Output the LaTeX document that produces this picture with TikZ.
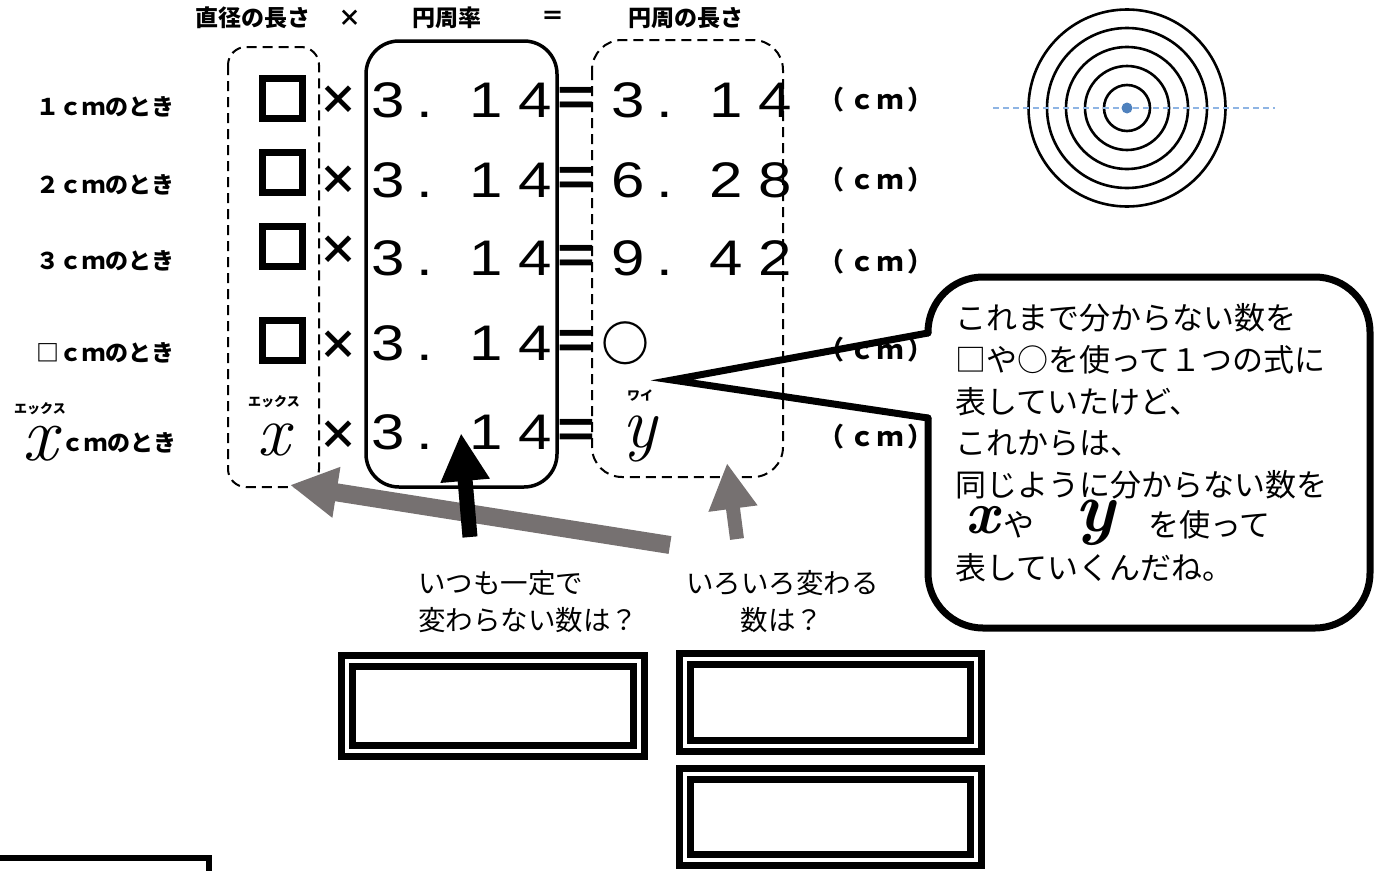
\documentclass[tikz,border=0pt]{standalone}
\usepackage{fontspec}
\newfontfamily\jp{Noto Sans CJK JP}
\newfontfamily\numfont{Liberation Sans}[FakeStretch=1.2]
\usetikzlibrary{arrows.meta}
\definecolor{grayarr}{HTML}{767171}
\definecolor{bluedot}{HTML}{4F81BD}
\definecolor{blueline}{HTML}{8EB4E3}
\newcommand\pival[3]{\makebox[0pt]{#1}\hspace{37pt}\makebox[0pt]{.}\hspace{61pt}\makebox[0pt]{#2}\hspace{49pt}\makebox[0pt]{#3}}
\newcommand\cmunit{（\hspace{5pt}ｃ\hspace{2pt}ｍ\hspace{5pt}）}
\newcommand\itvar[1]{\rmfamily\mdseries\itshape\fontsize{#1}{#1}\selectfont}
\begin{document}
\begin{tikzpicture}[x=1pt,y=-1pt,
 every node/.style={inner sep=0pt,outer sep=0pt},
 hdr/.style={font=\jp\bfseries\fontsize{23}{23}\selectfont},
 cmtxt/.style={font=\jp\bfseries\fontsize{26}{26}\selectfont},
 numtxt/.style={font=\numfont\fontsize{50}{50}\selectfont,anchor=west},
 eqsign/.style={font=\numfont\bfseries\fontsize{54}{54}\selectfont},
 circsign/.style={font=\jp\bfseries\fontsize{48}{48}\selectfont},
 mult/.style={font=\jp\bfseries\fontsize{40}{40}\selectfont},
 sqbox/.style={draw,line width=7pt,minimum size=40pt},
 rubyvar/.style={font=\jp\bfseries\fontsize{13}{13}\selectfont,align=center,anchor=south},
 varx/.style={font=\itvar{#1}\bfseries},
 calltxt/.style={font=\jp\fontsize{31}{31}\selectfont,anchor=west},
 qtxt/.style={font=\jp\fontsize{27.5}{27.5}\selectfont},
 dashbox/.style={draw,line width=2pt,dash pattern=on 10pt off 6pt},
 dblbox/.style={draw,line width=7pt,double,double distance=4pt},
]
\useasboundingbox (0,0) rectangle (1378,870);

% headers
\node[hdr] (h1) at (253,18) {直径の長さ};
\node[hdr] (h2) at (350,18) {×};
\node[hdr] (h3) at (447,18) {円周率};
\node[hdr] (h4) at (553,18) {＝};
\node[hdr] (h5) at (686,18) {円周の長さ};

% row labels
\node[hdr] (r1) at (105,107) {１ｃｍのとき};
\node[hdr] (r2) at (105,185) {２ｃｍのとき};
\node[hdr] (r3) at (105,261) {３ｃｍのとき};
\node[hdr] (r4) at (105,353) {□ｃｍのとき};
\node[hdr] (r5) at (119,443) {ｃｍのとき};
\node[rubyvar] (r5x) at (40,461) {エックス\\[10pt]{\itvar{78}x}};

% column boxes
\coordinate (lb1) at (228,47); \coordinate (lb2) at (319,487);
\coordinate (mb1) at (366,41); \coordinate (mb2) at (557,487);
\coordinate (rb1) at (592,40); \coordinate (rb2) at (783,477);
\draw[dashbox, rounded corners=18] (lb1) rectangle (lb2);
\draw[line width=3.5pt, rounded corners=33] (mb1) rectangle (mb2);

% left column
\node[sqbox] (s1) at (282,98) {};
\node[sqbox] (s2) at (282,172) {};
\node[sqbox] (s3) at (282,246) {};
\node[sqbox] (s4) at (282,340) {};
\node[rubyvar] (lx) at (274,456) {エックス\\[15pt]{\itvar{72}x}};

% multiplication signs
\node[mult] (m1) at (338,100) {×};
\node[mult] (m2) at (338,180) {×};
\node[mult] (m3) at (338,250) {×};
\node[mult] (m4) at (338,345) {×};
\node[mult] (m5) at (338,435) {×};

% pi
\node[numtxt] (p1) at (388,100) {\pival{3}{1}{4}};
\node[numtxt] (p2) at (388,180) {\pival{3}{1}{4}};
\node[numtxt] (p3) at (388,258) {\pival{3}{1}{4}};
\node[numtxt] (p4) at (388,343) {\pival{3}{1}{4}};
\node[numtxt] (p5) at (388,432) {\pival{3}{1}{4}};

% equals
\node[eqsign] (e1) at (576,101) {=};
\node[eqsign] (e2) at (576,181) {=};
\node[eqsign] (e3) at (576,259) {=};
\node[eqsign] (e4) at (576,344) {=};
\node[eqsign] (e5) at (576,433) {=};

% results
\node[numtxt] (v1) at (628,100) {\pival{3}{1}{4}};
\node[numtxt] (v2) at (628,180) {\pival{6}{2}{8}};
\node[numtxt] (v3) at (628,258) {\pival{9}{4}{2}};
\node[circsign] (v4) at (625,343) {○};
\node[rubyvar] (v5) at (640,462) {ワイ\\[13pt]{\itvar{72}y}};
\draw[dashbox, rounded corners=30] (rb1) rectangle (rb2);

% units
\node[cmtxt] (u1) at (876,100) {\cmunit};
\node[cmtxt] (u2) at (876,180) {\cmunit};
\node[cmtxt] (u3) at (876,262) {\cmunit};
\node[cmtxt] (u4) at (876,350) {\cmunit};
\node[cmtxt] (u5) at (876,437) {\cmunit};

% concentric circles
\coordinate (cc) at (1127,108);
\foreach \r in {98.5,80,61,42,23} \draw[line width=2.6pt] (cc) circle[radius=\r];
\coordinate (bl) at (993,108); \coordinate (br) at (1275,108);
\draw[blueline, line width=1.5pt, dash pattern=on 6pt off 4pt] (bl) -- (br);
\fill[bluedot] (cc) circle[radius=5.5];

% callout
\coordinate (k1) at (928,333); \coordinate (k2) at (928,277);
\coordinate (k3) at (1370,277); \coordinate (k4) at (1370,628);
\coordinate (k5) at (928,628); \coordinate (k6) at (928,418);
\coordinate (tip) at (672,380);
\fill[white, rounded corners=55] (k2) rectangle (k4);
\draw[line width=7pt, rounded corners=55, line cap=round] (k1) -- (k2) -- (k3) -- (k4) -- (k5) -- (k6);
\draw[line width=7pt, line join=miter, line cap=round] (k1) -- (tip) -- (k6);

\node[calltxt] (c1) at (955,318) {これまで分からない数を};
\node[calltxt] (c2) at (955,360) {□や○を使って１つの式に};
\node[calltxt] (c3) at (955,402) {表していたけど、};
\node[calltxt] (c4) at (955,443) {これからは、};
\node[calltxt] (c5) at (955,485) {同じように分からない数を};
\node[varx=60] (c6x) at (982,520) {x};
\node[calltxt] (c6a) at (1003,525) {や};
\node[varx=70] (c6y) at (1095,523) {y};
\node[calltxt] (c6b) at (1148,525) {を使って};
\node[calltxt] (c7) at (955,568) {表していくんだね。};

% questions
\node[qtxt, anchor=west] (q1) at (418,583) {いつも一定で};
\node[qtxt, anchor=west] (q2) at (418,620) {変わらない数は？};
\node[qtxt, anchor=west] (q3) at (686,583) {いろいろ変わる};
\node[qtxt] (q4) at (782,620) {数は？};

% answer boxes
\node[dblbox, minimum width=292pt, minimum height=90pt] (bA) at (493,706) {};
\node[dblbox, minimum width=291pt, minimum height=87pt] (bB) at (830.5,702.5) {};
\node[dblbox, minimum width=291pt, minimum height=86pt] (bC) at (830.5,817) {};

% partial box bottom left
\coordinate (z1) at (0,858); \coordinate (z2) at (209,858); \coordinate (z3) at (209,872);
\draw[line width=6pt] (z1) -- (z2) -- (z3);

% arrows
\coordinate (ga1) at (670,545); \coordinate (ga2) at (290,485);
\draw[grayarr, line width=18pt, -{Triangle[width=48pt,length=47pt]}] (ga1) -- (ga2);
\coordinate (ba1) at (470,537); \coordinate (ba2) at (461,433);
\draw[black, line width=15pt, -{Triangle[width=46pt,length=48pt]}] (ba1) -- (ba2);
\coordinate (gb1) at (737,539); \coordinate (gb2) at (727,463);
\draw[grayarr, line width=14pt, -{Triangle[width=46pt,length=46pt]}] (gb1) -- (gb2);
\end{tikzpicture}
\end{document}
